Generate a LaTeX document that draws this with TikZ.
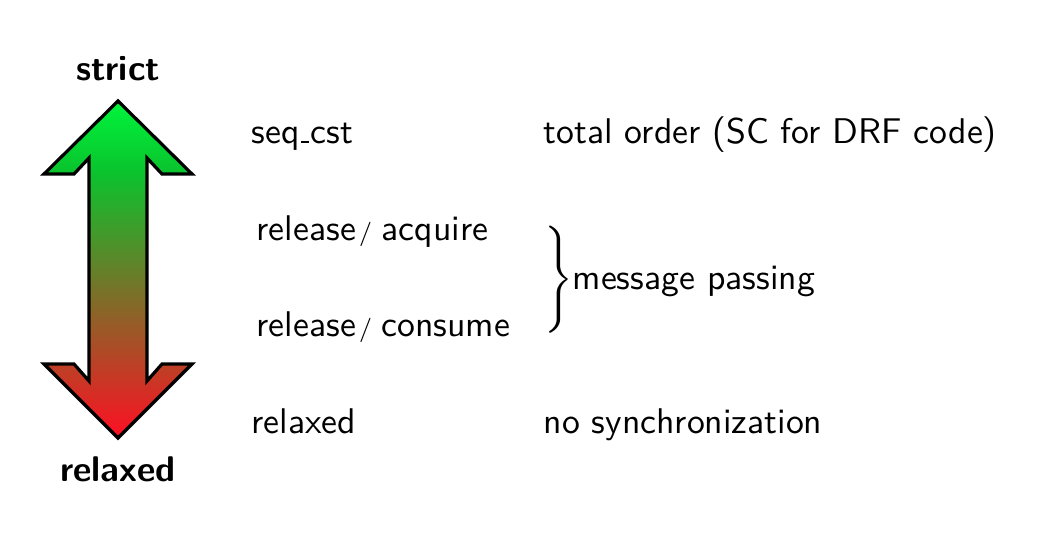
\documentclass[tikz,border=0pt]{standalone}
\usetikzlibrary{calc}
\definecolor{myred}{RGB}{255,15,35}
\definecolor{mydkgreen}{RGB}{10,195,45}
\definecolor{mygreen}{RGB}{0,245,60}
\pgfdeclareverticalshading{arrowshade}{100bp}{color(0bp)=(myred); color(25bp)=(myred); color(64.5bp)=(mydkgreen); color(75bp)=(mygreen); color(100bp)=(mygreen)}
\newcommand{\lowdash}{\kern0.4pt\rule{2.3pt}{0.5pt}\kern0.4pt}
\newcommand{\thinslash}{\kern0.9pt{\fontsize{6.8}{7}\selectfont /}\kern2.7pt}
\begin{document}
\begin{tikzpicture}[x=0.28pt,y=-0.28pt,
  lbl/.style={inner sep=0pt, anchor=base west, font=\fontsize{10}{12}\selectfont\sffamily},
  endlbl/.style={inner sep=0pt, anchor=base, font=\fontsize{10}{12}\selectfont\sffamily\bfseries},
  arrowbody/.style={shading=arrowshade, draw=black, line width=0.9pt, line join=miter}]
\useasboundingbox (0,0) rectangle (1043,537);
% double arrow
\shade[arrowbody] (118,101) -- (192,174) -- (162,174) -- (147,158) -- (147,381) -- (162,364) -- (192,364)
  -- (118,438) -- (44,364) -- (74,364) -- (89,381) -- (89,158) -- (74,174) -- (44,174) -- cycle;
\node[endlbl] (strict) at (118,80) {strict};
\node[endlbl] (relaxedend) at (118,481) {relaxed};
% orders
\node[lbl] (seq) at (251,143) {seq\lowdash cst};
\node[lbl] (relacq) at (256,240) {release\thinslash acquire};
\node[lbl] (relcon) at (256,336) {release\thinslash consume};
\node[lbl] (rel) at (251,433) {relaxed};
% descriptions
\node[lbl] (total) at (543,143) {total order (SC for DRF code)};
\node[lbl] (msg) at (539,289) {$\left.\vrule height 14pt depth 14pt width 0pt\right\}$message passing};
\node[lbl] (nosync) at (543,433) {no synchronization};
\end{tikzpicture}
\end{document}
